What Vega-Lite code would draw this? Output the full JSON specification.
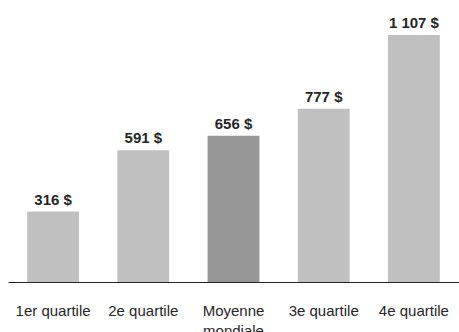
{
  "$schema": "https://vega.github.io/schema/vega-lite/v6.json",
  "autosize": {"type": "none"},
  "padding": {"left": 8, "top": 0, "right": 0, "bottom": 50},
  "width": 451,
  "height": 282,
  "background": "white",
  "config": {"view": {"stroke": null}, "font": "Liberation Sans"},
  "data": {
    "values": [
      {"groupe": "1er quartile", "valeur": 316, "type": "quartile"},
      {"groupe": "2e quartile", "valeur": 591, "type": "quartile"},
      {"groupe": "Moyenne mondiale", "valeur": 656, "type": "moyenne"},
      {"groupe": "3e quartile", "valeur": 777, "type": "quartile"},
      {"groupe": "4e quartile", "valeur": 1107, "type": "quartile"}
    ]
  },
  "transform": [
    {"calculate": "replace(format(datum.valeur, ','), ',', ' ') + ' $'", "as": "etiquette"}
  ],
  "encoding": {
    "x": {
      "field": "groupe",
      "type": "nominal",
      "sort": null,
      "scale": {"paddingInner": 0.425, "paddingOuter": 0.2125},
      "axis": {
        "title": null,
        "labelAngle": 0,
        "ticks": false,
        "tickSize": 0,
        "labelPadding": 21,
        "labelFontSize": 15,
        "labelColor": "#262626",
        "labelLineHeight": 20,
        "labelFont": "Liberation Sans",
        "domainColor": "#262626",
        "domainWidth": 1,
        "grid": false,
        "labelExpr": "datum.label == 'Moyenne mondiale' ? ['Moyenne', 'mondiale'] : datum.label"
      }
    },
    "y": {
      "field": "valeur",
      "type": "quantitative",
      "scale": {"domain": [0, 1264], "nice": false},
      "axis": null
    }
  },
  "layer": [
    {
      "mark": {"type": "bar"},
      "encoding": {
        "color": {
          "field": "type",
          "type": "nominal",
          "scale": {"domain": ["quartile", "moyenne"], "range": ["#c0c0c0", "#969696"]},
          "legend": null
        }
      }
    },
    {
      "mark": {"type": "text", "baseline": "alphabetic", "dy": -7, "fontSize": 15, "fontWeight": "bold", "color": "#262626", "font": "Liberation Sans"},
      "encoding": {"text": {"field": "etiquette"}}
    }
  ]
}
